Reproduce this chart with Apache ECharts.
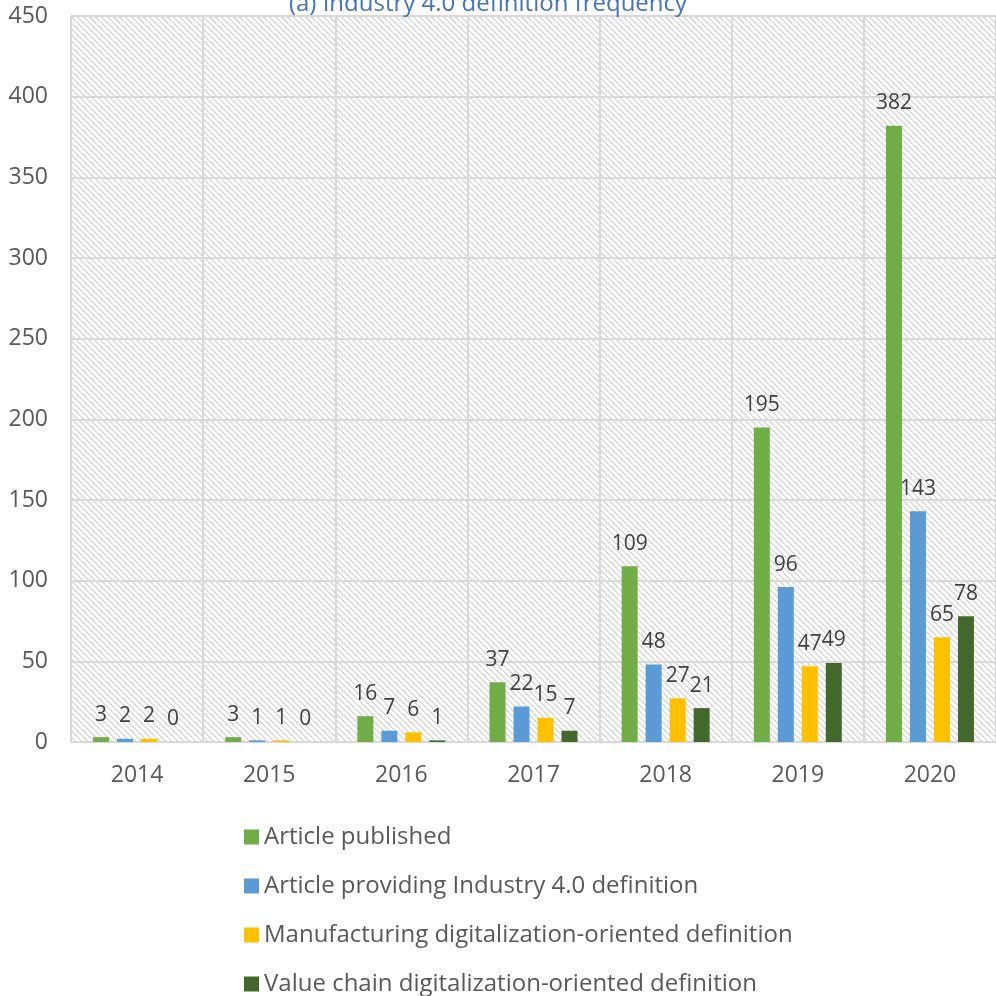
<!DOCTYPE html>
<html>
<head>
<meta charset="utf-8">
<script src="https://cdn.jsdelivr.net/npm/echarts@6/dist/echarts.min.js"></script>
<style>
  html, body { margin: 0; padding: 0; background: #fff; }
  #chart { width: 996px; height: 996px; }
</style>
</head>
<body>
<div id="chart"></div>
<script>
// data
const years = ["2014", "2015", "2016", "2017", "2018", "2019", "2020"];
const published = [3, 3, 16, 37, 109, 195, 382];
const providingDef = [2, 1, 7, 22, 48, 96, 143];
const manufacturingDef = [2, 1, 6, 15, 27, 47, 65];
const valueChainDef = [0, 0, 1, 7, 21, 49, 78];
const yTicks = { min: 0, max: 450, interval: 50 };

// hatched plot background (diagonal lines)
const makeHatch = () => {
  const size = 6;
  const cv = document.createElement("canvas");
  cv.width = size;
  cv.height = size;
  const ctx = cv.getContext("2d");
  const img = ctx.createImageData(size, size);
  for (let y = 0; y < size; y++) {
    for (let x = 0; x < size; x++) {
      const d = (x - y + size * 2) % size;
      const v = d === 0 || d === 1 ? 220 : 255;
      const i = (y * size + x) * 4;
      img.data[i] = v;
      img.data[i + 1] = v;
      img.data[i + 2] = v;
      img.data[i + 3] = 255;
    }
  }
  ctx.putImageData(img, 0, 0);
  return { image: cv, repeat: "repeat" };
};

const font = "'Open Sans', 'Noto Sans', sans-serif";
const labelStyle = {
  show: true,
  position: "top",
  distance: 12,
  color: "#404040",
  fontSize: 21,
  fontFamily: font,
};

const makeSeries = (name, data, color) => ({
  name: name,
  type: "bar",
  data: data,
  barWidth: 16,
  barGap: "50%",
  itemStyle: { color: color },
  label: labelStyle,
});

const chart = echarts.init(document.getElementById("chart"));
chart.setOption({
  animation: false,
  title: {
    text: "(a) Industry 4.0 definition frequency",
    left: 483,
    top: -13,
    textAlign: "center",
    textStyle: { color: "#4472c4", fontSize: 24, fontWeight: "normal", fontFamily: font },
  },
  grid: {
    left: 71,
    right: -2,
    top: 16,
    bottom: 254,
    show: true,
    borderWidth: 0,
    backgroundColor: makeHatch(),
  },
  xAxis: {
    type: "category",
    data: years,
    axisLine: { lineStyle: { color: "#d9d9d9", width: 2 } },
    axisTick: { show: false },
    axisLabel: { color: "#595959", fontSize: 23, fontFamily: font, margin: 22 },
    splitLine: { show: true, lineStyle: { color: "#d9d9d9", width: 2 } },
  },
  yAxis: {
    type: "value",
    min: yTicks.min,
    max: yTicks.max,
    interval: yTicks.interval,
    axisLine: { show: false },
    axisTick: { show: false },
    axisLabel: { color: "#595959", fontSize: 23, fontFamily: font, margin: 23 },
    splitLine: { lineStyle: { color: "#d9d9d9", width: 2 } },
  },
  legend: {
    orient: "vertical",
    left: 244,
    top: 825,
    height: 220,
    padding: 0,
    itemWidth: 15,
    itemHeight: 15,
    itemGap: 25,
    icon: "rect",
    textStyle: { color: "#595959", fontSize: 24, fontFamily: font },
  },
  series: [
    makeSeries("Article published", published, "#70ad47"),
    makeSeries("Article providing Industry 4.0 definition", providingDef, "#5b9bd5"),
    makeSeries("Manufacturing digitalization-oriented definition", manufacturingDef, "#ffc000"),
    makeSeries("Value chain digitalization-oriented definition", valueChainDef, "#43682b"),
  ],
});
</script>
</body>
</html>
